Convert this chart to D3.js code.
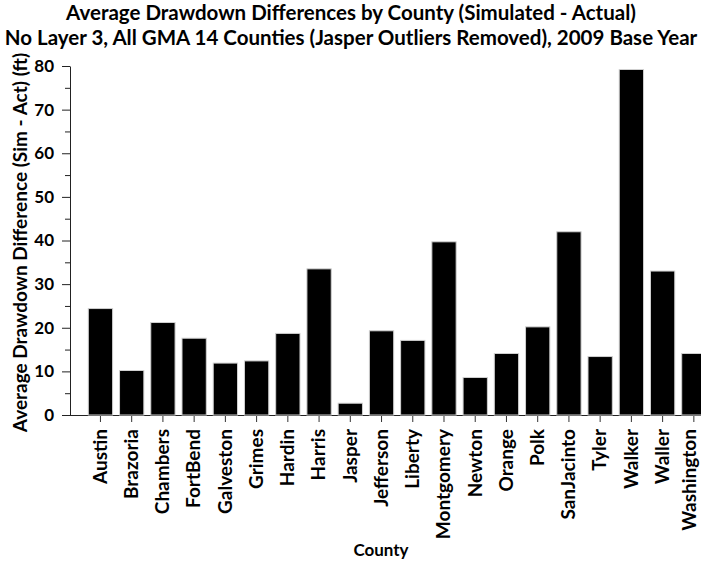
<!DOCTYPE html>
<html>
<head>
<meta charset="utf-8">
<script src="https://cdn.jsdelivr.net/npm/d3@7"></script>
<style>
  html, body { margin: 0; padding: 0; background: #fff; }
  svg { display: block; font-family: Lato, "Open Sans", sans-serif; }
</style>
</head>
<body>
<svg id="chart" width="701" height="563"></svg>
<script>
const counties = ["Austin","Brazoria","Chambers","FortBend","Galveston","Grimes","Hardin","Harris","Jasper","Jefferson","Liberty","Montgomery","Newton","Orange","Polk","SanJacinto","Tyler","Walker","Waller","Washington"];
const drawdownDiff = [24.4,10.2,21.2,17.6,11.9,12.4,18.7,33.5,2.7,19.3,17.1,39.7,8.6,14.1,20.2,42.0,13.4,79.2,33.0,14.1];
const majorTicks = [0,10,20,30,40,50,60,70,80];
const minorTicks = [5,15,25,35,45,55,65,75];
const titleLines = ["Average Drawdown Differences by County (Simulated - Actual)", "No Layer 3, All GMA 14 Counties (Jasper Outliers Removed), 2009 Base Year"];
const xTitle = "County";
const yTitle = "Average Drawdown Difference (Sim - Act) (ft)";

const W = 701;
const svg = d3.select("#chart");
const plotLeft = 70, plotBottom = 415, plotTop = 66;

const x = d3.scaleBand().domain(counties).range([plotLeft, 724.3]).paddingInner(0.222).paddingOuter(0.586);
const y = d3.scaleLinear().domain([0, 80]).range([plotBottom, plotTop]);

// Title
svg.append("text").attr("x", 351).attr("y", 19.5).attr("text-anchor", "middle")
  .attr("font-size", 20.5).attr("font-weight", "bold").text(titleLines[0]);
svg.append("text").attr("x", 351).attr("y", 44.5).attr("text-anchor", "middle")
  .attr("font-size", 20.5).attr("font-weight", "bold").text(titleLines[1]);

// x axis (drawn first, bars on top)
const xAxis = svg.append("g").attr("transform", `translate(0,${plotBottom})`)
  .call(d3.axisBottom(x).tickSize(7).tickSizeOuter(0).tickPadding(4));
xAxis.select(".domain").attr("stroke", "#222").attr("d", `M${plotLeft},0.5H${W}`);
xAxis.selectAll(".tick line").attr("stroke", "#333");
xAxis.selectAll(".tick text")
  .attr("transform", "rotate(-90)")
  .attr("text-anchor", "end")
  .attr("x", -14).attr("y", 0).attr("dy", "0.33em")
  .attr("font-size", 19).attr("font-weight", "bold")
  .attr("font-family", "Lato, sans-serif").attr("fill", "#000");
// keep labels inside the picture's right edge
xAxis.selectAll(".tick text").each(function(d) {
  const bb = this.getBoundingClientRect();
  const over = bb.right - (W - 1);
  if (over > 0) d3.select(this).attr("y", -over);
});

// y axis
const yAxis = svg.append("g").attr("transform", `translate(${plotLeft},0)`)
  .call(d3.axisLeft(y).tickValues(majorTicks).tickSize(8).tickSizeOuter(0).tickPadding(8));
yAxis.select(".domain").attr("stroke", "#222");
yAxis.selectAll(".tick line").attr("stroke", "#222");
yAxis.selectAll(".tick text").attr("font-size", 17).attr("font-weight", "bold")
  .attr("font-family", "Lato, sans-serif").attr("fill", "#000");
const yMinor = svg.append("g").attr("transform", `translate(${plotLeft},0)`)
  .call(d3.axisLeft(y).tickValues(minorTicks).tickSize(5).tickFormat(""));
yMinor.select(".domain").remove();
yMinor.selectAll(".tick line").attr("stroke", "#222");

// bars
svg.append("g").selectAll("rect").data(counties).join("rect")
  .attr("x", d => x(d))
  .attr("y", (d, i) => y(drawdownDiff[i]))
  .attr("width", x.bandwidth())
  .attr("height", (d, i) => y(0) - y(drawdownDiff[i]))
  .attr("fill", "#000")
  .attr("stroke", "#d0d0d0")
  .attr("stroke-width", 1);

// axis titles
svg.append("text").attr("x", 381).attr("y", 556).attr("text-anchor", "middle")
  .attr("font-size", 17).attr("font-weight", "bold").text(xTitle);
svg.append("text").attr("transform", `translate(27,${(plotTop + plotBottom) / 2 + 2}) rotate(-90)`)
  .attr("text-anchor", "middle").attr("font-size", 19).attr("font-weight", "bold").text(yTitle);
</script>
</body>
</html>
